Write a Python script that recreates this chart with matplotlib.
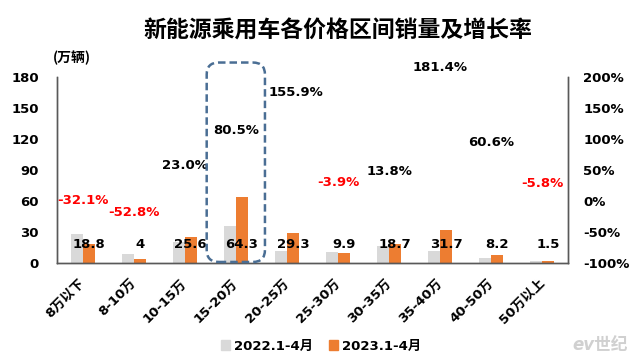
import matplotlib
matplotlib.use('Agg')
import matplotlib.pyplot as plt
from matplotlib.patches import FancyBboxPatch, Patch
import numpy as np

plt.rcParams['font.family'] = ['DejaVu Sans', 'Noto Sans CJK SC']
plt.rcParams['font.weight'] = 'bold'

categories = ['8万以下', '8-10万', '10-15万', '15-20万', '20-25万',
              '25-30万', '30-35万', '35-40万', '40-50万', '50万以上']
sales_2022 = [27.7, 8.5, 20.8, 35.6, 11.5, 10.3, 16.4, 11.3, 5.1, 1.6]
sales_2023 = [18.8, 4, 25.6, 64.3, 29.3, 9.9, 18.7, 31.7, 8.2, 1.5]
growth = [-32.1, -52.8, 23.0, 80.5, 155.9, -3.9, 13.8, 181.4, 60.6, -5.8]
left_ticks = [0, 30, 60, 90, 120, 150, 180]
right_ticks = [-100, -50, 0, 50, 100, 150, 200]

gray = '#D9D9D9'
orange = '#ED7D31'
spine_col = '#595959'

fig = plt.figure(figsize=(6.4, 3.62), dpi=100)
ax = fig.add_axes([0.089, 0.2735, 0.7985, 0.5138])
ax2 = ax.twinx()

x = np.arange(len(categories))
w = 0.235
ax.bar(x - w / 2, sales_2022, w, color=gray, zorder=2)
ax.bar(x + w / 2, sales_2023, w, color=orange, zorder=2)

ax.set_xlim(-0.5, len(categories) - 0.5)
ax.set_ylim(0, 180)
ax2.set_ylim(-100, 200)
ax.set_yticks(left_ticks)
ax2.set_yticks(right_ticks)
ax2.set_yticklabels([f'{t}%' for t in right_ticks])
ax.set_xticks(x)
ax.set_xticklabels(categories)

for a in (ax, ax2):
    for s in a.spines.values():
        s.set_color(spine_col)
        s.set_linewidth(1)
    a.spines['top'].set_visible(False)
ax.tick_params(axis='y', length=0, pad=13, labelsize=9.5, labelcolor='black')
ax2.tick_params(axis='y', length=0, pad=11, labelsize=9.5, labelcolor='black')
ax.tick_params(axis='x', length=0, pad=13, labelsize=9.5)
plt.setp(ax.get_xticklabels(), rotation=45, ha='right', va='center',
         rotation_mode='anchor', fontweight='bold')

# value labels on the 2023 bars
for i, v in enumerate(sales_2023):
    ax.text(i + w / 2, 17.5, f'{v:g}', ha='center', va='center',
            fontsize=9.5, fontweight='bold', color='black', zorder=4)

# growth labels (invisible line)
for i, g in enumerate(growth):
    off = (6.5, 8.6) if i == 4 else (0, 15)
    ax2.annotate(f'{g:.1f}%', (i, g), xytext=off, textcoords='offset points',
                 ha='center', va='center', fontsize=9.5, fontweight='bold',
                 color='#FF0000' if g < 0 else 'black', annotation_clip=False)

# dashed highlight box around 15-20万
fig.canvas.draw()
p0 = ax.transData.transform((3 - 0.57, 1))
p1 = ax.transData.transform((3 + 0.57, 194))
x0, y0 = p0 / fig.dpi
x1, y1 = p1 / fig.dpi
box = FancyBboxPatch((x0, y0), x1 - x0, y1 - y0,
                     boxstyle='round,pad=0,rounding_size=0.12',
                     transform=fig.dpi_scale_trans, fill=False,
                     edgecolor='#4A6E94', linewidth=1.8,
                     linestyle=(0, (3, 1.6)), zorder=5)
fig.add_artist(box)

fig.text(338 / 640, 1 - 31 / 362, '新能源乘用车各价格区间销量及增长率',
         ha='center', va='center', fontsize=16.5, fontweight='bold',
         family=['Noto Sans CJK SC', 'DejaVu Sans'])
fig.text(72 / 640, 1 - 58 / 362, '(万辆)', ha='center', va='center',
         fontsize=10, fontweight='bold', family=['Noto Sans CJK SC', 'DejaVu Sans'])

handles = [Patch(color=gray), Patch(color=orange)]
fig.legend(handles, ['2022.1-4月', '2023.1-4月'], loc='center',
           bbox_to_anchor=(321 / 640, 1 - 346 / 362), ncol=2, frameon=False,
           prop={'size': 9.5, 'weight': 'bold'}, handlelength=0.7,
           handleheight=0.7, handletextpad=0.3, columnspacing=1.2)

fig.text(600 / 640, 1 - 345 / 362, 'ev世纪', ha='center', va='center',
         fontsize=12, fontweight='bold', style='italic', color='#D0D0D0')

fig.savefig('out.png', dpi=100)
